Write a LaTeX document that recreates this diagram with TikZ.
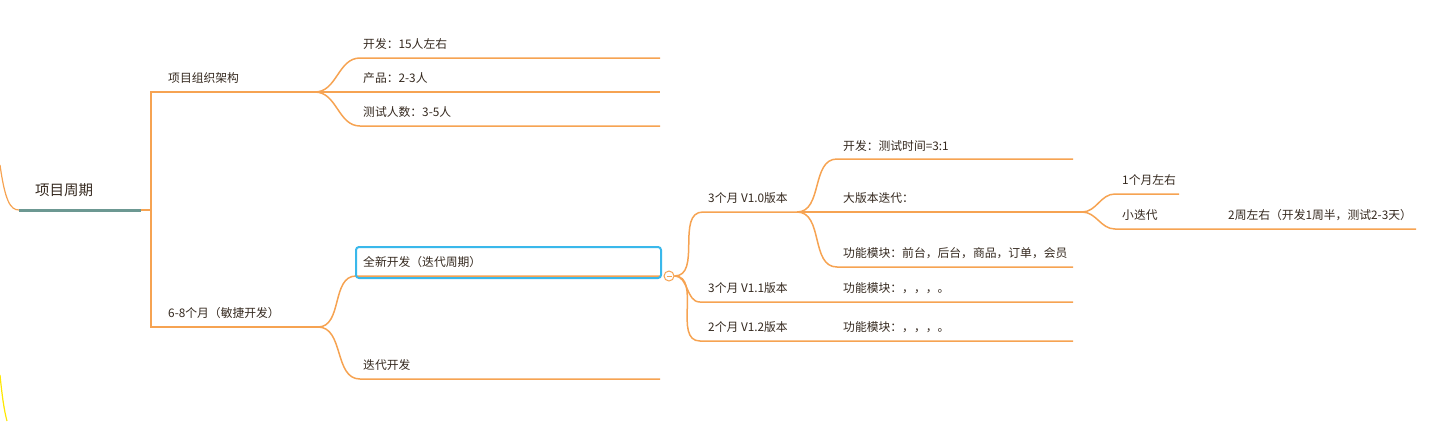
\documentclass[tikz,border=0pt]{standalone}
\usepackage{fontspec}
\newfontfamily\cjk{Noto Sans CJK SC}
\definecolor{orangeline}{RGB}{246,163,82}
\definecolor{boxblue}{RGB}{58,184,235}
\definecolor{rootteal}{RGB}{108,152,146}
\definecolor{txt}{RGB}{52,40,30}

\begin{document}
\begin{tikzpicture}[x=1pt, y=-1pt,
  topic/.style={anchor=base west, inner sep=0pt, text=txt,
    font=\cjk\fontsize{11.8}{14}\selectfont},
  link/.style={draw=orangeline, line width=1.5pt},
  curve/.style={link, out=0, in=180}]
  \useasboundingbox (0,0) rectangle (1439,421);

  % fragments of the branches beyond the left edge
  \draw[orangeline, line width=1.2pt] (0,165) .. controls (5,200) and (10,210) .. (19,210);
  \draw[yellow!90!orange, line width=1.2pt] (0,375) .. controls (2,395) and (4,410) .. (7,421);

  % root
  \node[topic, font=\cjk\fontsize{14.5}{17}\selectfont] (root) at (35,195.5) {项目周期};
  \coordinate (rootL) at (19,210);
  \coordinate (rootR) at (141,210);
  \coordinate (rootF) at (151,210);
  \draw[rootteal, line width=3pt] (rootL) -- (rootR);
  \draw[link] (rootR) -- (rootF);

  % level 1
  \node[topic] (org) at (168,82) {项目组织架构};
  \node[topic] (agile) at (168,317) {6-8个月（敏捷开发）};
  \coordinate (orgF) at (315,92);
  \coordinate (agileF) at (318,327);
  \draw[link] (orgF) -| (rootF) |- (agileF);

  % team
  \node[topic] (dev) at (363,48) {开发：15人左右};
  \node[topic] (prod) at (363,82) {产品：2-3人};
  \node[topic] (test) at (363,116) {测试人数：3-5人};
  \coordinate (devL) at (360,58);   \coordinate (devR) at (660,58);
  \coordinate (prodR) at (660,92);
  \coordinate (testL) at (360,126); \coordinate (testR) at (660,126);
  \draw[curve] (orgF) to (devL) -- (devR);
  \draw[link] (orgF) -- (prodR);
  \draw[curve] (orgF) to (testL) -- (testR);

  % agile
  \node[topic] (newdev) at (363,266) {全新开发（迭代周期）};
  \node[topic] (iter) at (363,369) {迭代开发};
  \coordinate (newdevL) at (356,276); \coordinate (newdevR) at (661,276);
  \coordinate (iterL) at (360,379);   \coordinate (iterR) at (660,379);
  \draw[curve] (agileF) to (newdevL) -- (newdevR);
  \draw[curve] (agileF) to (iterL) -- (iterR);
  \draw[boxblue, line width=2pt, rounded corners=3pt] (356,247) rectangle (661,278);
  \node[circle, draw=orangeline, fill=white, line width=1pt, minimum size=10pt,
    inner sep=0pt] (knob) at (669,276) {};
  \draw[orangeline, line width=0.8pt] ([xshift=-2.5pt]knob.center) -- ([xshift=2.5pt]knob.center);

  % versions
  \node[topic] (v10) at (708,202) {3个月 V1.0版本};
  \node[topic] (v11) at (708,292) {3个月 V1.1版本};
  \node[topic] (v12) at (708,331) {2个月 V1.2版本};
  \coordinate (v10L) at (703,212); \coordinate (v10F) at (797,212);
  \coordinate (v11L) at (700,302); \coordinate (v11R) at (1073,302);
  \coordinate (v12L) at (700,341); \coordinate (v12R) at (1073,341);
  \draw[curve] (knob.east) to (v10L) -- (v10F);
  \draw[curve] (knob.east) to (v11L) -- (v11R);
  \draw[curve] (knob.east) to (v12L) -- (v12R);
  \node[topic] (mod11) at (843,292) {功能模块：，，，。};
  \node[topic] (mod12) at (843,331) {功能模块：，，，。};

  % V1.0
  \node[topic] (ratio) at (843,150) {开发：测试时间=3:1};
  \node[topic] (big) at (843,202) {大版本迭代：};
  \node[topic] (mods) at (843,257) {功能模块：前台，后台，商品，订单，会员};
  \coordinate (ratioL) at (837,159); \coordinate (ratioR) at (1073,159);
  \coordinate (bigF) at (1082,212);
  \coordinate (modsL) at (837,267);  \coordinate (modsR) at (1073,267);
  \draw[curve] (v10F) to (ratioL) -- (ratioR);
  \draw[link] (v10F) -- (bigF);
  \draw[curve] (v10F) to (modsL) -- (modsR);

  % big iteration
  \node[topic] (month) at (1122,184) {1个月左右};
  \node[topic] (small) at (1122,219) {小迭代};
  \node[topic] (weeks) at (1228,219) {2周左右（开发1周半，测试2-3天）};
  \coordinate (monthL) at (1115,194); \coordinate (monthR) at (1179,194);
  \coordinate (smallL) at (1115,229); \coordinate (smallR) at (1416,229);
  \draw[curve] (bigF) to (monthL) -- (monthR);
  \draw[curve] (bigF) to (smallL) -- (smallR);
\end{tikzpicture}
\end{document}
